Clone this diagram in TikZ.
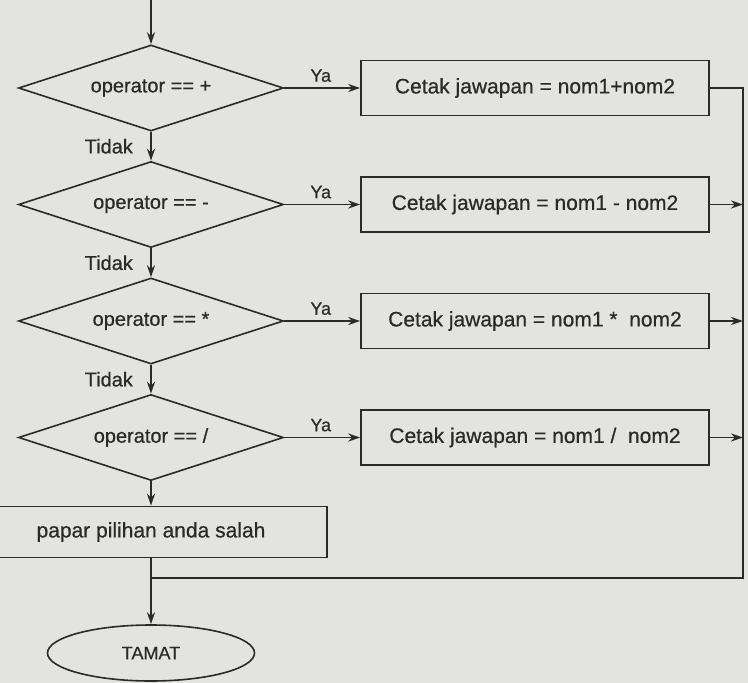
\documentclass[tikz,border=0pt]{standalone}
\usepackage{fontspec}
\setmainfont[FakeBold=0.6]{Liberation Sans}
\usetikzlibrary{shapes.geometric,arrows.meta}
\definecolor{garis}{HTML}{2A2A2A}
\definecolor{latar}{HTML}{E3E3E1}
\tikzset{
  pilih/.style={diamond,draw=garis,line width=1.6pt,aspect=4,inner sep=0pt,
    minimum width=265pt,minimum height=86pt,text=garis,font=\fontsize{20}{24}\selectfont},
  kotak/.style={rectangle,draw=garis,line width=1.6pt,minimum width=348pt,
    minimum height=55pt,text=garis,font=\fontsize{21}{25}\selectfont},
  anak/.style={draw=garis,line width=1.6pt,-{Stealth[length=12pt,width=8pt]}},
  garisan/.style={draw=garis,line width=1.6pt},
  tulis/.style={text=garis,font=\fontsize{#1}{#1}\selectfont},
}
\begin{document}
\begin{tikzpicture}[x=1pt,y=-1pt]
    \fill[latar] (0,0) rectangle (748,683);
    \useasboundingbox (0,0) rectangle (748,683);
    % the four tests and what is printed for each
    \foreach \nn/\yy/\op/\hasil in {1/88/+/nom1+nom2,2/204.5/-/nom1 - nom2,3/321/*/nom1 *\ \ nom2,4/437.5/\slash/nom1 \slash\ \ nom2}{
      \node[pilih] (d\nn) at (151,\yy) {operator == \op};
      \node[kotak] (c\nn) at (535,\yy) {Cetak jawapan = \hasil};
      \draw[anak] (d\nn) -- node[above=2pt,tulis=18,pos=.48] {Ya} (c\nn);};
    \foreach \aa/\bb in {1/2,2/3,3/4}{
      \draw[anak] (d\aa) -- node[left=14pt,tulis=20] {Tidak} (d\bb);};
    \coordinate (mula) at (151,0);
    \coordinate (bawah) at (743,578);
    \coordinate (gabung) at (151,578);
    \node[kotak,minimum width=352pt,minimum height=51pt] (papar) at (151,532) {papar pilihan anda salah};
    \node[ellipse,draw=garis,line width=1.6pt,minimum width=207pt,minimum height=56pt,tulis=18] (tamat) at (151,653) {TAMAT};
    \draw[anak] (mula) -- (d1);
    \draw[anak] (d4) -- (papar);
    \draw[garisan] (c1.east) -| (bawah) -- (gabung);
    \foreach \nn in {2,3,4}{
      \draw[anak] (c\nn.east) -- (c\nn.east -| bawah);};
    \draw[anak] (papar) -- (tamat);
  \end{tikzpicture}
\end{document}
